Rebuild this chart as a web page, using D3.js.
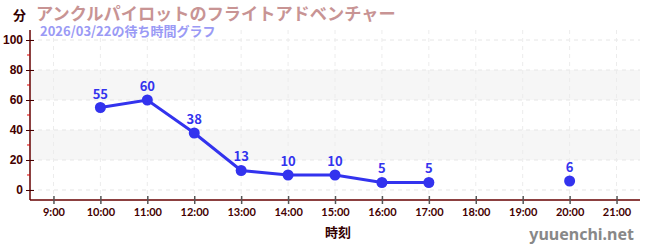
<!DOCTYPE html>
<html><head><meta charset="utf-8">
<script src="https://cdn.jsdelivr.net/npm/d3@7"></script>
<style>
body{margin:0;background:#fff;}
svg{display:block;font-family:"Noto Sans CJK JP","Noto Sans",sans-serif;}
</style></head>
<body><svg id="c" width="650" height="250"></svg>
<script>
const hours = [10, 11, 12, 13, 14, 15, 16, 17, 18, 19, 20];
const waits = [55, 60, 38, 13, 10, 10, 5, 5, null, null, 6];
const xTicks = [9,10,11,12,13,14,15,16,17,18,19,20,21];
const yTicks = [0,20,40,60,80,100];
const yMinor = [10,30,50,70,90];
const bands = [[20,40],[60,80]];
const title = "アンクルパイロットのフライトアドベンチャー";
const subtitle = "2026/03/22の待ち時間グラフ";

const svg = d3.select("#c");
const L=30,R=640,T=30,B=200;
const x = d3.scaleLinear().domain([8.5,21.5]).range([L,R]);
const y = d3.scaleLinear().domain([-6.667,106.667]).range([B,T]);

// bands
svg.selectAll("rect.band").data(bands).enter().append("rect")
 .attr("x",L).attr("width",R-L).attr("y",d=>y(d[1])).attr("height",d=>y(d[0])-y(d[1]))
 .attr("fill","#f6f6f6");
// grid
svg.selectAll("line.hg").data(yTicks).enter().append("line")
 .attr("x1",L).attr("x2",R).attr("y1",d=>y(d)).attr("y2",d=>y(d))
 .attr("stroke","#e6e6e6").attr("stroke-dasharray","4,4");
svg.selectAll("line.vg").data(xTicks).enter().append("line")
 .attr("y1",T).attr("y2",B).attr("x1",d=>x(d)).attr("x2",d=>x(d))
 .attr("stroke","#ececec").attr("stroke-dasharray","4,4");

// axes
const yAxis = svg.append("g").attr("transform",`translate(${L},0)`)
 .call(d3.axisLeft(y).tickValues(yTicks).tickSize(5).tickPadding(2));
yAxis.select(".domain").attr("stroke","#600").attr("stroke-width",1.5).attr("d",`M0,${T}V${B}`);
yAxis.selectAll(".tick line").attr("stroke","#400").attr("x2",4).attr("x1",-4);
yAxis.selectAll("text").attr("fill","#400").attr("font-size",12).attr("font-weight","bold");
svg.selectAll("line.ym").data(yMinor).enter().append("line")
 .attr("x1",L-3).attr("x2",L).attr("y1",d=>y(d)).attr("y2",d=>y(d)).attr("stroke","#d00");

const xAxis = svg.append("g").attr("transform",`translate(0,${B})`)
 .call(d3.axisBottom(x).tickValues(xTicks).tickFormat(d=>d+":00").tickSize(4).tickPadding(4));
xAxis.select(".domain").attr("stroke","#600").attr("stroke-width",1.5).attr("d",`M${L},0H${R}`);
xAxis.selectAll(".tick line").attr("stroke","#555").attr("y1",-4).attr("y2",4).attr("stroke-width",1.5);
xAxis.selectAll("text").attr("fill","#400").attr("font-size",11).attr("font-weight","bold")
 .attr("font-family","Lato, 'Noto Sans', sans-serif");

// line
const pts = hours.map((h,i)=>({h,v:waits[i]}));
svg.append("path").datum(pts)
 .attr("d",d3.line().defined(d=>d.v!=null).x(d=>x(d.h)).y(d=>y(d.v)))
 .attr("fill","none").attr("stroke","#3333ee").attr("stroke-width",3);
const valid = pts.filter(d=>d.v!=null);
svg.selectAll("circle.p").data(valid).enter().append("circle")
 .attr("cx",d=>x(d.h)).attr("cy",d=>y(d.v)).attr("r",5.5).attr("fill","#3333ee");
svg.selectAll("text.lbl").data(valid).enter().append("text")
 .attr("x",d=>x(d.h)).attr("y",d=>y(d.v)-9).attr("text-anchor","middle")
 .attr("font-size",13).attr("font-weight","bold").attr("fill","#3333ee").text(d=>d.v);

// texts
svg.append("text").attr("x",13).attr("y",20).attr("font-size",13).attr("font-weight","bold").attr("fill","#300").text("分");
svg.append("text").attr("x",36).attr("y",20).attr("font-size",17.2).attr("font-weight","bold").attr("fill","#c89494").text(title);
svg.append("text").attr("x",40).attr("y",36).attr("font-size",13).attr("font-weight","bold").attr("fill","#9a9af5").text(subtitle);
svg.append("text").attr("x",338).attr("y",237).attr("text-anchor","middle").attr("font-size",13).attr("font-weight","bold").attr("fill","#300").text("時刻");
svg.append("text").attr("x",634).attr("y",240).attr("text-anchor","end").attr("font-size",16).attr("font-weight","bold").attr("fill","#888")
 .attr("font-family","'Noto Sans','DejaVu Sans',sans-serif").text("yuuenchi.net");
</script></body></html>
